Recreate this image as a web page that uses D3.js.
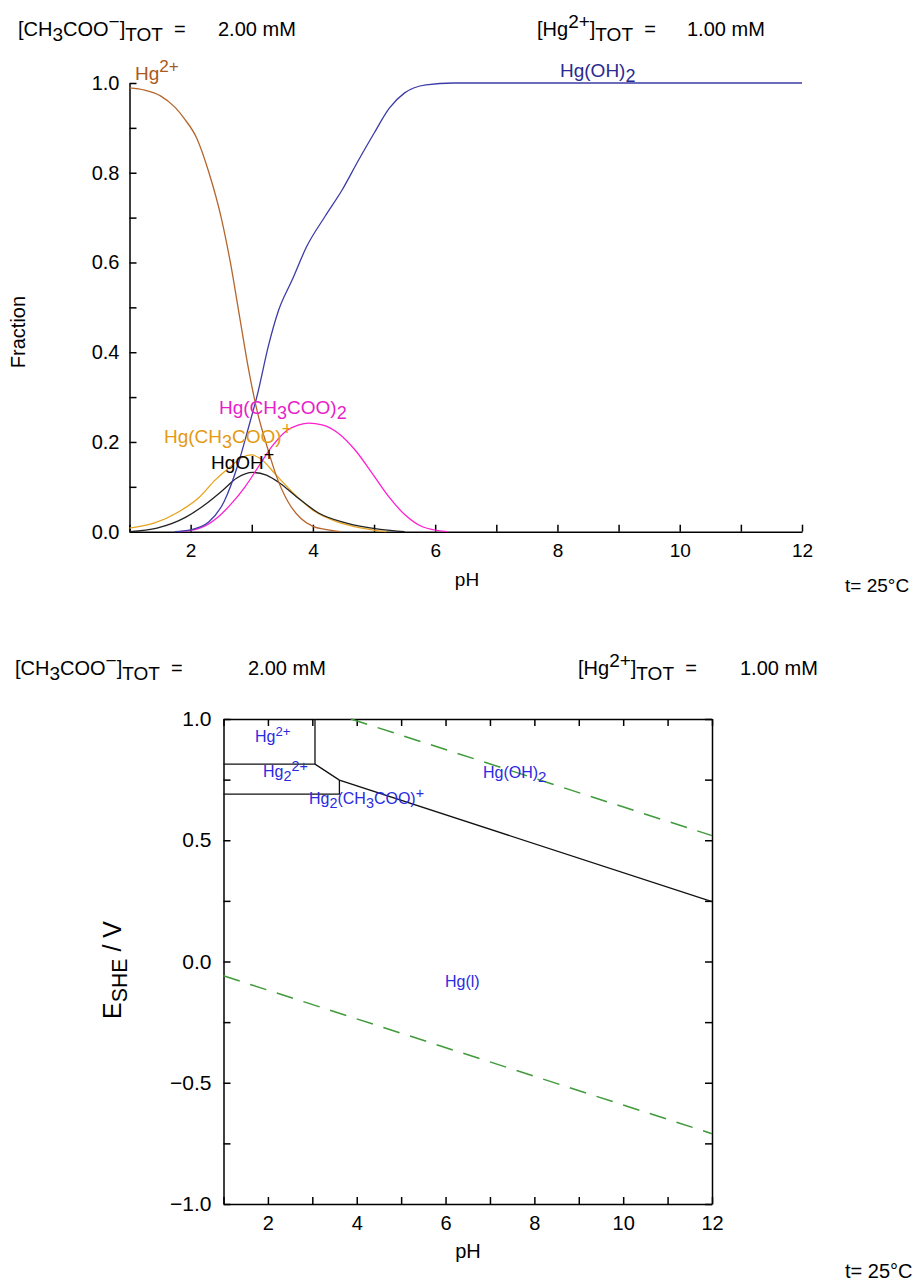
<!DOCTYPE html>
<html lang="en">
<head>
<meta charset="utf-8">
<title>Hg - acetate: fraction and Pourbaix diagrams</title>
<script type="text/javascript" src="https://d3js.org/d3.v7.min.js"></script>
<style type="text/css">
  body { margin: 0; background: #fff; }
  text { font-family: "Liberation Sans", Arial, Helvetica, sans-serif; white-space: pre; }
  .axis path, .axis line { stroke: #000; stroke-width: 1.5; }
</style>
</head>
<body>
<script type="text/javascript">

// ---- top chart: fraction vs pH ----
var pHTicks = [1, 2, 3, 4, 5, 6, 7, 8, 9, 10, 11, 12];
var fracTicks = [0.0, 0.1, 0.2, 0.3, 0.4, 0.5, 0.6, 0.7, 0.8, 0.9, 1.0];

var hg2 = [[1.0,0.989],[1.25,0.984],[1.5,0.972],[1.75,0.945],[1.9,0.92],[2.1,0.877],[2.3,0.80],[2.5,0.70],[2.65,0.60],[2.8,0.48],[2.95,0.36],[3.1,0.262],[3.25,0.19],[3.4,0.125],[3.6,0.065],[3.8,0.03],[4.0,0.012],[4.2,0.005],[4.45,0.0]];
var hgOH2 = [[1.74,0.0],[2.0,0.004],[2.3,0.022],[2.55,0.068],[2.78,0.152],[2.95,0.234],[3.1,0.31],[3.27,0.413],[3.44,0.494],[3.66,0.561],[3.9,0.636],[4.2,0.703],[4.48,0.762],[4.75,0.829],[5.0,0.888],[5.25,0.944],[5.5,0.978],[5.85,0.996],[6.3,1.0],[8,1.0],[10,1.0],[12,1.0]];
var hgAc = [[1.0,0.008],[1.4,0.019],[1.8,0.044],[2.15,0.078],[2.4,0.115],[2.65,0.145],[2.85,0.166],[3.0,0.171],[3.15,0.162],[3.4,0.126],[3.68,0.086],[4.0,0.048],[4.4,0.022],[4.8,0.008],[5.2,0.0]];
var hgOH = [[1.0,0.0],[1.45,0.008],[1.93,0.033],[2.26,0.063],[2.53,0.093],[2.75,0.119],[3.02,0.132],[3.24,0.126],[3.46,0.108],[3.73,0.078],[4.1,0.041],[4.55,0.019],[5.1,0.005],[5.5,0.0]];
var hgAc2 = [[1.8,0.0],[2.13,0.007],[2.45,0.033],[2.67,0.063],[2.89,0.10],[3.11,0.145],[3.33,0.19],[3.55,0.223],[3.77,0.238],[3.93,0.242],[4.15,0.238],[4.42,0.219],[4.69,0.182],[4.97,0.13],[5.24,0.078],[5.51,0.037],[5.79,0.011],[6.2,0.0]];

// ---- bottom chart: E vs pH ----
var eTicks = [-1.0, -0.75, -0.5, -0.25, 0.0, 0.25, 0.5, 0.75, 1.0];
var hg2Box = [[1,0.814],[3.06,0.814],[3.06,1.0]];
var hg2AcBox = [[1,0.69],[3.61,0.69],[3.61,0.748]];
var hgBoundary = [[3.06,0.814],[3.61,0.748],[12,0.247]];
var o2Line = [[3.87,1.0],[12,0.519]];
var h2Line = [[1,-0.059],[12,-0.71]];

var W = 919, H = 1281;

var svg = d3.select("body")
            .append("svg")
            .attr("width", W)
            .attr("height", H);

// text with sub / superscripts: parts = [[text, "sub"|"sup"|""], ...]
function rich(g, x, y, parts, size, color, sc) {
  sc = sc || 0.82;
  var t = g.append("text")
           .attr("x", x)
           .attr("y", y)
           .attr("font-size", size)
           .attr("fill", color);
  var cur = 0;
  parts.forEach(function(p) {
    var k = p[1] || "";
    var off = k === "sub" ? 0.25 * size : (k === "sup" ? -0.4 * size : 0);
    t.append("tspan")
     .attr("dy", off - cur)
     .attr("font-size", k ? size * sc : size)
     .text(p[0]);
    cur = off;
  });
  return t;
}

function header(y, xL, xLv, xR, xRv, size) {
  rich(svg, xL, y, [["[CH"],["3","sub"],["COO"],["\u2212","sup"],["]"],["TOT","sub"],["  =",""]], size, "#000", 0.95);
  svg.append("text").attr("x", xLv).attr("y", y).attr("font-size", size).text("2.00 mM");
  rich(svg, xR, y, [["[Hg"],["2+","sup"],["]"],["TOT","sub"],["  =",""]], size, "#000", 0.95);
  svg.append("text").attr("x", xRv).attr("y", y).attr("font-size", size).text("1.00 mM");
}

// ================= top chart =================
var x1 = d3.scaleLinear().domain([1, 12]).range([129.5, 802]);
var y1 = d3.scaleLinear().domain([0, 1]).range([531.7, 83]);

header(36, 18, 218, 537, 687, 20);

var gTop = svg.append("g");

gTop.append("g")
    .attr("class", "axis")
    .attr("transform", "translate(0," + y1(0) + ")")
    .call(d3.axisBottom(x1).tickValues(pHTicks).tickSizeInner(-7).tickSizeOuter(0).tickPadding(12)
          .tickFormat(function(d) { return d % 2 === 0 ? d : ""; }))
    .call(function(g) { g.selectAll("text").attr("font-size", 19).attr("fill", "#000"); });

gTop.append("g")
    .attr("class", "axis")
    .attr("transform", "translate(" + x1(1) + ",0)")
    .call(d3.axisLeft(y1).tickValues(fracTicks).tickSizeInner(-7).tickSizeOuter(0).tickPadding(10)
          .tickFormat(function(d) { return Math.round(d * 10) % 2 === 0 ? d3.format(".1f")(d) : ""; }))
    .call(function(g) { g.selectAll("text").attr("font-size", 20).attr("fill", "#000"); });

var line1 = d3.line()
              .x(function(d) { return x1(d[0]); })
              .y(function(d) { return y1(d[1]); })
              .curve(d3.curveMonotoneX);

var series = [
  { data: hgAc,  color: "#e8a21e" },
  { data: hgOH,  color: "#222222" },
  { data: hgAc2, color: "#ff1fd0" },
  { data: hgOH2, color: "#3c3ca8" },
  { data: hg2,   color: "#b5652b" }
];

gTop.selectAll("path.curve")
    .data(series)
    .enter()
    .append("path")
    .attr("class", "curve")
    .attr("fill", "none")
    .attr("stroke", function(d) { return d.color; })
    .attr("stroke-width", 1.3)
    .attr("d", function(d) { return line1(d.data); });

rich(gTop, 135, 80, [["Hg"],["2+","sup"]], 19, "#a85a20", 0.9);
rich(gTop, 560, 77, [["Hg(OH)"],["2","sub"]], 19, "#2a2a90", 0.95);
rich(gTop, 219, 414, [["Hg(CH"],["3","sub"],["COO)"],["2","sub"]], 19, "#e81ec8", 0.95);
rich(gTop, 164, 443, [["Hg(CH"],["3","sub"],["COO)"],["+","sup"]], 19, "#e39a12", 0.95);
rich(gTop, 211, 469, [["HgOH"],["+","sup"]], 19, "#000", 0.95);

gTop.append("text")
    .attr("transform", "translate(25,332) rotate(-90)")
    .attr("text-anchor", "middle")
    .attr("font-size", 20)
    .text("Fraction");

gTop.append("text").attr("x", 467).attr("y", 586)
    .attr("text-anchor", "middle").attr("font-size", 19).text("pH");
gTop.append("text").attr("x", 845).attr("y", 592)
    .attr("font-size", 19).text("t= 25\u00b0C");

// ================= bottom chart =================
var x2 = d3.scaleLinear().domain([1, 12]).range([223.5, 712]);
var y2 = d3.scaleLinear().domain([-1, 1]).range([1204, 719]);

header(675, 15, 248, 578, 740, 20);

var gBot = svg.append("g");

gBot.append("g")
    .attr("class", "axis")
    .attr("transform", "translate(0," + y2(-1) + ")")
    .call(d3.axisBottom(x2).tickValues(pHTicks).tickSizeInner(-7).tickSizeOuter(0).tickPadding(12)
          .tickFormat(function(d) { return d % 2 === 0 ? d : ""; }))
    .call(function(g) { g.selectAll("text").attr("font-size", 20).attr("fill", "#000"); });

gBot.append("g")
    .attr("class", "axis")
    .attr("transform", "translate(0," + y2(1) + ")")
    .call(d3.axisTop(x2).tickValues(pHTicks).tickSizeInner(-7).tickSizeOuter(0).tickFormat(""));

gBot.append("g")
    .attr("class", "axis")
    .attr("transform", "translate(" + x2(1) + ",0)")
    .call(d3.axisLeft(y2).tickValues(eTicks).tickSizeInner(-7).tickSizeOuter(0).tickPadding(12)
          .tickFormat(function(d) { return Math.abs(d * 4) % 2 === 0 ? d3.format(".1f")(d) : ""; }))
    .call(function(g) { g.selectAll("text").attr("font-size", 21).attr("fill", "#000"); });

gBot.append("g")
    .attr("class", "axis")
    .attr("transform", "translate(" + x2(12) + ",0)")
    .call(d3.axisRight(y2).tickValues(eTicks).tickSizeInner(-7).tickSizeOuter(0).tickFormat(""));

var line2 = d3.line()
              .x(function(d) { return x2(d[0]); })
              .y(function(d) { return y2(d[1]); });

[o2Line, h2Line].forEach(function(d) {
  gBot.append("path")
      .attr("fill", "none")
      .attr("stroke", "#3f9a3a")
      .attr("stroke-width", 1.5)
      .attr("stroke-dasharray", "17,11")
      .attr("d", line2(d));
});

[hg2Box, hg2AcBox, hgBoundary].forEach(function(d) {
  gBot.append("path")
      .attr("fill", "none")
      .attr("stroke", "#111")
      .attr("stroke-width", 1.3)
      .attr("d", line2(d));
});

var blue = "#2a2ae0";
rich(gBot, 255, 742, [["Hg"],["2+","sup"]], 16, blue);
rich(gBot, 263, 777, [["Hg"],["2","sub"],["2+","sup"]], 16, blue, 0.9);
rich(gBot, 309, 804, [["Hg"],["2","sub"],["(CH"],["3","sub"],["COO)"],["+","sup"]], 16, blue, 0.9);
rich(gBot, 483, 778, [["Hg(OH)"],["2","sub"]], 16, blue, 0.95);
rich(gBot, 445, 987, [["Hg(l)"]], 16, blue);

rich(gBot, 0, 0, [["E"],["SHE","sub"],[" / V"]], 25, "#000", 0.85)
    .attr("transform", "translate(121,970) rotate(-90)")
    .attr("text-anchor", "middle");

gBot.append("text").attr("x", 468).attr("y", 1258)
    .attr("text-anchor", "middle").attr("font-size", 20).text("pH");
gBot.append("text").attr("x", 845).attr("y", 1278)
    .attr("font-size", 20).text("t= 25\u00b0C");

</script>
</body>
</html>
